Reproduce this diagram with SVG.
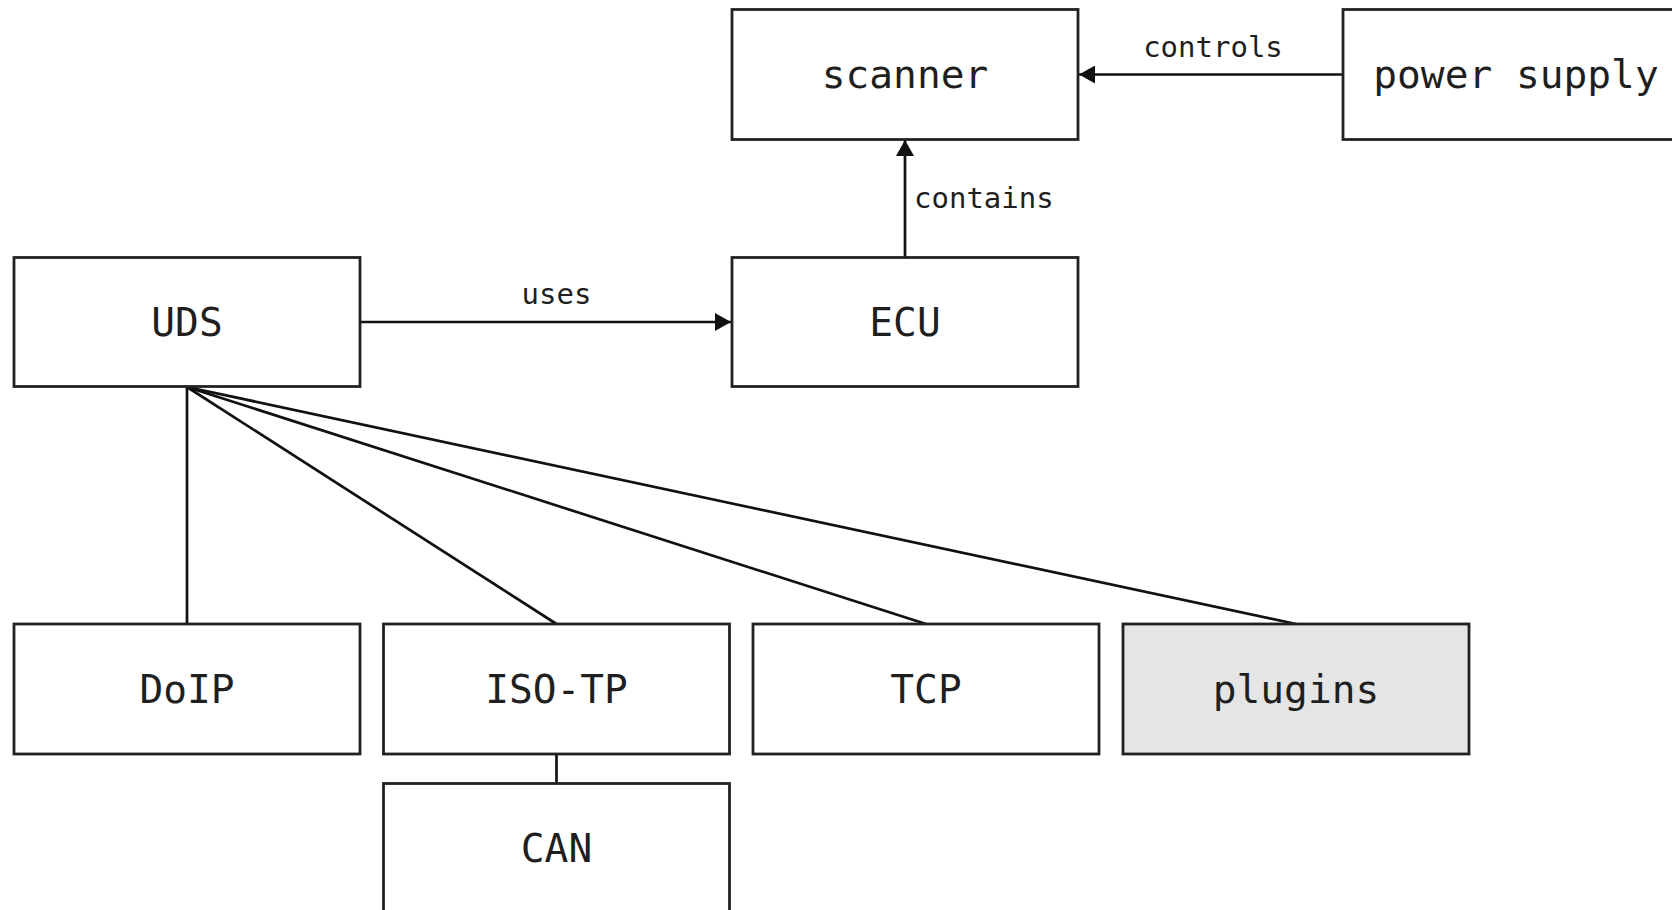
<svg xmlns="http://www.w3.org/2000/svg" width="1672" height="910" viewBox="0 0 1672 910">
  <style>
    .node rect { fill: #ffffff; stroke: #222222; stroke-width: 2.8; }
    .node.muted rect { fill: #e5e5e5; }
    .node text { font-family: "DejaVu Sans Mono", "Liberation Mono", monospace; font-size: 39.5px; fill: #1f1f1f; text-anchor: middle; }
    .edge { stroke: #111111; stroke-width: 2.7; fill: none; }
    .label { font-family: "DejaVu Sans Mono", "Liberation Mono", monospace; font-size: 29px; fill: #1f1f1f; }
  </style>
  <defs>
    <marker id="arrow" markerUnits="userSpaceOnUse" markerWidth="18" markerHeight="18" viewBox="0 0 16 18" refX="16" refY="9" orient="auto">
      <path d="M0,0 L16,9 L0,18 Z" fill="#111111"/>
    </marker>
  </defs>
  <rect width="1672" height="910" fill="#ffffff"/>

  <g id="connectors">
    <line class="edge" x1="1343" y1="74.5" x2="1079" y2="74.5" marker-end="url(#arrow)"/>
    <text class="label" x="1213" y="57" text-anchor="middle">controls</text>
    <line class="edge" x1="905" y1="257" x2="905" y2="140" marker-end="url(#arrow)"/>
    <text class="label" x="914" y="208">contains</text>
    <line class="edge" x1="360" y1="322" x2="731" y2="322" marker-end="url(#arrow)"/>
    <text class="label" x="556.5" y="304" text-anchor="middle">uses</text>
    <line class="edge" x1="187" y1="387" x2="187" y2="624"/>
    <line class="edge" x1="187" y1="387" x2="556.5" y2="624"/>
    <line class="edge" x1="187" y1="387" x2="926" y2="624"/>
    <line class="edge" x1="187" y1="387" x2="1296" y2="624"/>
    <line class="edge" x1="556.5" y1="754" x2="556.5" y2="783"/>
  </g>

  <g id="node-scanner" class="node">
    <rect x="732" y="9.5" width="346" height="130"/>
    <text x="905" y="88">scanner</text>
  </g>
  <g id="node-power-supply" class="node">
    <rect x="1343" y="9.5" width="346" height="130"/>
    <text x="1516" y="88">power supply</text>
  </g>
  <g id="node-uds" class="node">
    <rect x="14" y="257.5" width="346" height="129"/>
    <text x="187" y="336">UDS</text>
  </g>
  <g id="node-ecu" class="node">
    <rect x="732" y="257.5" width="346" height="129"/>
    <text x="905" y="336">ECU</text>
  </g>
  <g id="node-doip" class="node">
    <rect x="14" y="624" width="346" height="130"/>
    <text x="187" y="703">DoIP</text>
  </g>
  <g id="node-isotp" class="node">
    <rect x="383.5" y="624" width="346" height="130"/>
    <text x="556.5" y="703">ISO-TP</text>
  </g>
  <g id="node-tcp" class="node">
    <rect x="753" y="624" width="346" height="130"/>
    <text x="926" y="703">TCP</text>
  </g>
  <g id="node-plugins" class="node muted">
    <rect x="1123" y="624" width="346" height="130"/>
    <text x="1296" y="703">plugins</text>
  </g>
  <g id="node-can" class="node">
    <rect x="383.5" y="783.5" width="346" height="140"/>
    <text x="556.5" y="862">CAN</text>
  </g>
</svg>
